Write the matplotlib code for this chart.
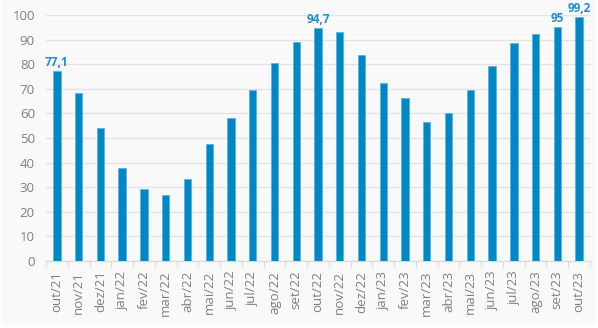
import matplotlib
matplotlib.use("Agg")
import matplotlib.pyplot as plt
from matplotlib.patches import Rectangle
import numpy as np

categories = ["out/21", "nov/21", "dez/21", "jan/22", "fev/22", "mar/22", "abr/22",
              "mai/22", "jun/22", "jul/22", "ago/22", "set/22", "out/22", "nov/22",
              "dez/22", "jan/23", "fev/23", "mar/23", "abr/23", "mai/23", "jun/23",
              "jul/23", "ago/23", "set/23", "out/23"]
values = [77.1, 68.1, 53.9, 37.8, 29.1, 26.7, 33.5, 47.7, 58.3, 69.4, 80.6, 89.1,
          94.7, 93.0, 83.6, 72.5, 66.3, 56.4, 60.0, 69.4, 79.3, 88.6, 92.4, 95.0, 99.2]
labelled = {0: "77,1", 12: "94,7", 23: "95", 24: "99,2"}
yticks = [0, 10, 20, 30, 40, 50, 60, 70, 80, 90, 100]

plt.rcParams['font.family'] = ['Open Sans', 'DejaVu Sans']

W, H = 598, 328
fig = plt.figure(figsize=(W / 100, H / 100), dpi=100, facecolor='white')
fig.patches.append(Rectangle((2 / W, 3 / H), (W - 4) / W, (H - 3) / H,
                             transform=fig.transFigure, facecolor='#f9f9f9',
                             edgecolor='none', zorder=-10))

ax = fig.add_axes([46 / W, (H - 261) / H, (590 - 46) / W, (261 - 15) / H])
ax.set_facecolor('none')

x = np.arange(len(categories))
ax.bar(x, values, width=0.34, color='#0088c6', edgecolor='#5bb4e0', linewidth=0.6, zorder=3)

for i, t in labelled.items():
    ax.annotate(t, (x[i], values[i]), xytext=(0, 1.5), textcoords='offset points',
                ha='center', va='bottom', color='#1f8fcb', fontsize=8.5,
                fontweight='bold', zorder=4, annotation_clip=False)

ax.set_xlim(-0.5, len(categories) - 0.5)
ax.set_ylim(0, 100)
ax.set_yticks(yticks)
ax.set_yticklabels([str(v) for v in yticks])
ax.yaxis.grid(True, color='#e3e3e3', linewidth=1, zorder=0)
ax.tick_params(axis='y', length=0, labelsize=9.5, labelcolor='#7f7f7f', pad=8)

ax.set_xticks(x)
ax.set_xticklabels(categories, rotation=90)
ax.tick_params(axis='x', length=0, labelsize=9.5, labelcolor='#7f7f7f', pad=7)
ax.set_xticks(np.arange(-0.5, len(categories), 1), minor=True)
ax.tick_params(axis='x', which='minor', length=4, color='#d9d9d9', width=0.8)

for s in ['top', 'right', 'left']:
    ax.spines[s].set_visible(False)
ax.spines['bottom'].set_color('#d9d9d9')
ax.spines['bottom'].set_linewidth(0.8)

fig.savefig('out.png', dpi=100, facecolor=fig.get_facecolor())
